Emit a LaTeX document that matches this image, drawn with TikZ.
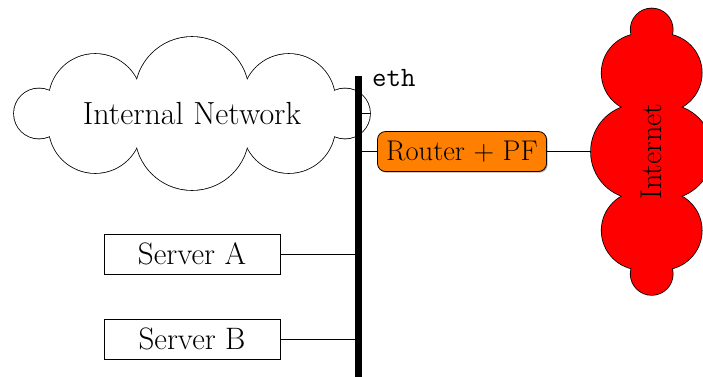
\documentclass[tikz,border=0pt]{standalone}
\usetikzlibrary{shadows}
\begin{document}
\begin{tikzpicture}[x=1pt,y=-1pt,
    label font/.style={font=\fontsize{30}{34}\selectfont},
    puffedge/.style={line width=1.6pt},
    serverbox/.style={draw, rectangle, inner sep=0pt, line width=0.8pt,
      minimum width=176pt, minimum height=40pt, font=\fontsize{31}{35}\selectfont},
    routerbox/.style={draw, rectangle, rounded corners=8pt, fill=orange,
      inner sep=0pt, line width=0.8pt, minimum width=169pt, minimum height=40pt,
      font=\fontsize{28.5}{32}\selectfont,
      drop shadow={shadow xshift=1.2pt, shadow yshift=-1.2pt, opacity=0.6}},
    link/.style={line width=0.8pt},
    busline/.style={line width=7pt}]
  \useasboundingbox (0,0) rectangle (703,376);

  % internal LAN cloud: union of eight puffs (outline, then white interior)
  \def\lanpuffs{39/113.5/25, 345/113.5/25,
    95.2/100.4/46.4, 192/93.8/56.8, 288.8/100.4/46.4,
    95.2/126.6/46.4, 192/133.2/56.8, 288.8/126.6/46.4}
  \foreach \px/\py/\pr in \lanpuffs
    \draw[puffedge] (\px,\py) circle[radius=\pr pt];
  \foreach \px/\py/\pr in \lanpuffs
    \fill[white] (\px,\py) circle[radius=\pr pt];
  \node[font=\fontsize{32}{36}\selectfont, inner sep=0pt] (lan) at (192,113.5) {Internal Network};
  \coordinate (lanE) at (370,113.5);

  % upstream cloud, standing upright, filled red
  \def\inetpuffs{651.7/29.5/21, 651.7/273.9/21,
    640.7/72.9/39, 638.2/151.7/47.2, 640.7/230.5/39,
    662.7/72.9/39, 665.2/151.7/47.2, 662.7/230.5/39}
  \foreach \px/\py/\pr in \inetpuffs
    \draw[puffedge] (\px,\py) circle[radius=\pr pt];
  \foreach \px/\py/\pr in \inetpuffs
    \fill[red] (\px,\py) circle[radius=\pr pt];
  \node[label font, inner sep=0pt, rotate=90] (inet) at (651.7,151.7) {Internet};
  \coordinate (inetW) at (591,151.5);

  % ethernet bus end points
  \coordinate (bustop) at (358,76);
  \coordinate (busbot) at (358,380);

  % hosts
  \node[serverbox] (srvA) at (192,254) {Server A};
  \node[serverbox] (srvB) at (192,339) {Server B};
  \node[routerbox] (router) at (462,151.5) {Router + PF};

  % links to the bus
  \draw[link] (lanE) -- (lanE -| bustop);
  \draw[link] (srvA.east) -- (srvA.east -| bustop);
  \draw[link] (srvB.east) -- (srvB.east -| bustop);
  \draw[link] (router.west) -- (router.west -| bustop);
  \draw[link] (router.east) -- (router.east -| inetW);

  % the bus itself
  \draw[busline] (bustop) -- (busbot);
  \node[anchor=base west, inner sep=0pt, font=\fontsize{28}{32}\selectfont\ttfamily]
    (eth) at (372,86) {eth};
\end{tikzpicture}
\end{document}
